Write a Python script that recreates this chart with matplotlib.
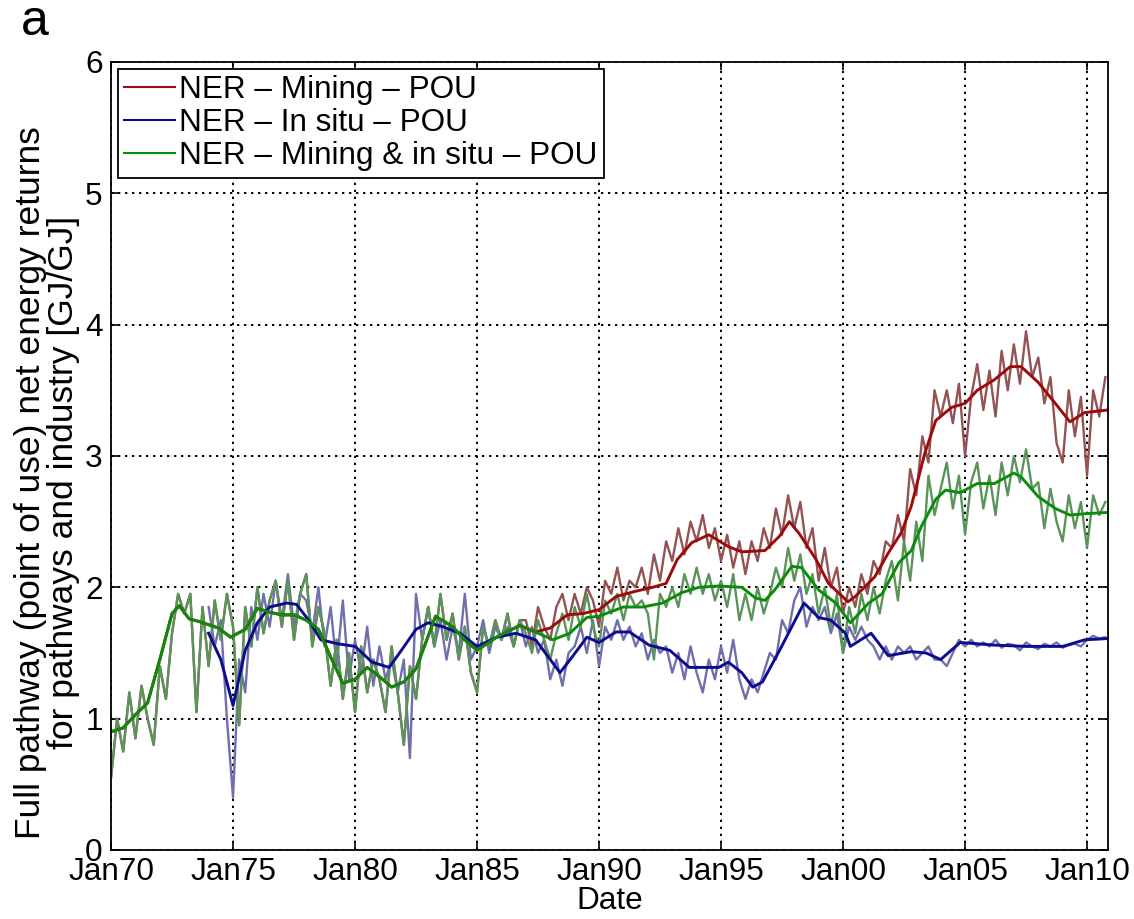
import numpy as np
import matplotlib
matplotlib.use("Agg")
import matplotlib.pyplot as plt

plt.rcParams['font.family'] = ['Liberation Sans', 'DejaVu Sans']

# quarterly net energy return samples [GJ/GJ]
# mining and combined pathways coincide until the late 1980s
early_raw = [
    0.55, 1.00, 0.75, 1.20,   # 1970
    0.85, 1.25, 1.00, 0.80,   # 1971
    1.40, 1.15, 1.65, 1.95,   # 1972
    1.80, 1.95, 1.05, 1.85,   # 1973
    1.40, 1.90, 1.60, 1.95,   # 1974
    1.70, 0.95, 1.85, 1.55,   # 1975
    2.00, 1.65, 1.90, 2.05,   # 1976
    1.70, 2.05, 1.60, 1.95,   # 1977
    2.10, 1.55, 1.85, 1.65,   # 1978
    1.25, 1.60, 1.15, 1.50,   # 1979
    1.05, 1.55, 1.20, 1.45,   # 1980
    1.30, 1.05, 1.55, 1.20,   # 1981
    0.80, 1.40, 1.15, 1.60,   # 1982
    1.85, 1.55, 1.95, 1.60,   # 1983
    1.80, 1.45, 1.70, 1.35,   # 1984
    1.20, 1.70, 1.55, 1.75,   # 1985
    1.60, 1.80, 1.55, 1.75,   # 1986
]

mining_raw_tail = [
    1.75, 1.55, 1.85, 1.70,   # 1987
    1.60, 1.85, 1.95, 1.75,   # 1988
    1.95, 1.80, 2.00, 1.90,   # 1989
    1.70, 2.05, 1.95, 2.15,   # 1990
    1.90, 2.05, 2.00, 2.15,   # 1991
    1.95, 2.25, 2.05, 2.35,   # 1992
    2.20, 2.45, 2.25, 2.50,   # 1993
    2.35, 2.55, 2.30, 2.45,   # 1994
    2.20, 2.40, 2.15, 2.35,   # 1995
    2.10, 2.35, 2.20, 2.45,   # 1996
    2.30, 2.60, 2.40, 2.70,   # 1997
    2.45, 2.65, 2.30, 2.45,   # 1998
    2.05, 2.30, 2.00, 2.15,   # 1999
    1.80, 2.00, 1.85, 2.10,   # 2000
    1.95, 2.20, 2.10, 2.35,   # 2001
    2.30, 2.55, 2.35, 2.90,   # 2002
    2.70, 3.15, 2.95, 3.50,   # 2003
    3.30, 3.50, 3.25, 3.55,   # 2004
    3.00, 3.45, 3.70, 3.35,   # 2005
    3.65, 3.30, 3.80, 3.50,   # 2006
    3.85, 3.55, 3.95, 3.60,   # 2007
    3.75, 3.40, 3.60, 3.10,   # 2008
    2.95, 3.50, 3.15, 3.45,   # 2009
    2.85, 3.50, 3.30, 3.60,   # 2010
]

combined_raw_tail = [
    1.65, 1.50, 1.75, 1.60,   # 1987
    1.45, 1.65, 1.80, 1.60,   # 1988
    1.85, 1.70, 1.95, 1.70,   # 1989
    1.55, 1.90, 1.80, 1.95,   # 1990
    1.75, 1.95, 1.85, 1.90,   # 1991
    1.80, 1.45, 1.95, 1.85,   # 1992
    2.00, 1.85, 2.10, 1.95,   # 1993
    2.15, 1.95, 2.10, 1.90,   # 1994
    2.05, 1.85, 2.10, 1.75,   # 1995
    1.95, 1.75, 2.00, 1.80,   # 1996
    1.95, 2.15, 2.00, 2.30,   # 1997
    2.05, 2.25, 1.95, 2.10,   # 1998
    1.80, 2.00, 1.70, 1.95,   # 1999
    1.50, 1.85, 1.65, 1.95,   # 2000
    1.75, 2.00, 1.80, 2.05,   # 2001
    2.20, 1.90, 2.35, 2.05,   # 2002
    2.50, 2.20, 2.85, 2.55,   # 2003
    2.75, 2.95, 2.60, 2.85,   # 2004
    2.40, 2.80, 2.95, 2.60,   # 2005
    2.85, 2.55, 2.95, 2.70,   # 2006
    3.00, 2.80, 3.05, 2.75,   # 2007
    2.80, 2.45, 2.75, 2.50,   # 2008
    2.35, 2.70, 2.45, 2.65,   # 2009
    2.30, 2.70, 2.55, 2.65,   # 2010
]

# in situ series starts in 1974
insitu_raw = [
    1.85, 1.55, 1.75, 1.00,   # 1974
    0.40, 1.45, 1.20, 1.85,   # 1975
    1.60, 1.95, 1.70, 2.05,   # 1976
    1.75, 2.10, 1.70, 1.95,   # 1977
    1.90, 1.65, 2.00, 1.55,   # 1978
    1.85, 1.40, 1.90, 1.30,   # 1979
    1.60, 1.35, 1.70, 1.25,   # 1980
    1.55, 1.30, 1.45, 1.20,   # 1981
    1.45, 0.70, 1.95, 1.60,   # 1982
    1.85, 1.55, 1.75, 1.45,   # 1983
    1.70, 1.50, 1.95, 1.45,   # 1984
    1.55, 1.75, 1.50, 1.70,   # 1985
    1.60, 1.70, 1.55, 1.75,   # 1986
    1.55, 1.70, 1.50, 1.60,   # 1987
    1.30, 1.45, 1.25, 1.50,   # 1988
    1.55, 1.70, 1.50, 1.75,   # 1989
    1.40, 1.70, 1.60, 1.75,   # 1990
    1.60, 1.70, 1.55, 1.65,   # 1991
    1.45, 1.60, 1.50, 1.55,   # 1992
    1.35, 1.50, 1.30, 1.55,   # 1993
    1.35, 1.20, 1.45, 1.30,   # 1994
    1.55, 1.35, 1.60, 1.30,   # 1995
    1.15, 1.30, 1.20, 1.35,   # 1996
    1.50, 1.45, 1.75, 1.65,   # 1997
    1.90, 2.00, 1.70, 1.85,   # 1998
    1.75, 1.85, 1.65, 1.80,   # 1999
    1.50, 1.70, 1.60, 1.70,   # 2000
    1.60, 1.55, 1.45, 1.55,   # 2001
    1.45, 1.55, 1.50, 1.55,   # 2002
    1.45, 1.50, 1.55, 1.45,   # 2003
    1.45, 1.40, 1.50, 1.60,   # 2004
    1.55, 1.60, 1.55, 1.58,   # 2005
    1.55, 1.60, 1.54, 1.57,   # 2006
    1.56, 1.52, 1.58, 1.55,   # 2007
    1.53, 1.57, 1.55, 1.58,   # 2008
    1.54, 1.56, 1.57, 1.55,   # 2009
    1.60, 1.63, 1.61, 1.62,   # 2010
]

# smoothed trends (decimal year, value)
early_smooth_x = [1970.0, 1970.5, 1971.0, 1971.5, 1972.0, 1972.5, 1972.8, 1973.2,
                  1973.6, 1974.4, 1974.9, 1975.5, 1976.0, 1976.5, 1977.0, 1977.5,
                  1978.0, 1978.5, 1979.0, 1979.5, 1980.0, 1980.5, 1981.0, 1981.5,
                  1982.0, 1982.5, 1983.3, 1984.0, 1984.5, 1985.0, 1985.8, 1986.75,
                  1987.4]
early_smooth_y = [0.90, 0.93, 1.03, 1.12, 1.45, 1.80, 1.86, 1.76,
                  1.74, 1.69, 1.62, 1.68, 1.84, 1.81, 1.79, 1.79,
                  1.75, 1.68, 1.47, 1.27, 1.30, 1.39, 1.32, 1.24,
                  1.28, 1.38, 1.78, 1.70, 1.60, 1.52, 1.62, 1.71,
                  1.66]

mining_smooth_x = [1988.0, 1988.7, 1989.35, 1990.0, 1990.7, 1991.5, 1992.2, 1992.75,
                   1993.2, 1993.8, 1994.5, 1995.3, 1995.85, 1996.8, 1997.4, 1997.8,
                   1998.2, 1998.9, 1999.4, 2000.2, 2000.5, 2001.3, 2001.85, 2002.4,
                   2002.8, 2003.35, 2003.8, 2004.45, 2005.0, 2005.5, 2006.2, 2006.85,
                   2007.3, 2008.0, 2008.7, 2009.3, 2009.9, 2010.85]
mining_smooth_y = [1.69, 1.79, 1.80, 1.83, 1.93, 1.97, 2.00, 2.03,
                   2.21, 2.34, 2.40, 2.31, 2.27, 2.28, 2.39, 2.50,
                   2.41, 2.21, 2.03, 1.89, 1.93, 2.08, 2.26, 2.42,
                   2.62, 3.02, 3.27, 3.37, 3.40, 3.50, 3.58, 3.68,
                   3.68, 3.56, 3.40, 3.26, 3.33, 3.35]

combined_smooth_x = [1988.1, 1988.8, 1989.5, 1990.0, 1991.0, 1991.8, 1992.6, 1993.4,
                     1994.1, 1994.9, 1995.85, 1996.4, 1996.8, 1997.2, 1997.9, 1998.3,
                     1999.0, 1999.7, 2000.3, 2001.05, 2001.6, 2002.3, 2002.8, 2003.2,
                     2003.8, 2004.2, 2004.8, 2005.5, 2006.2, 2007.0, 2007.3, 2008.0,
                     2008.7, 2009.3, 2009.9, 2010.85]
combined_smooth_y = [1.60, 1.65, 1.77, 1.78, 1.85, 1.85, 1.88, 1.96,
                     2.00, 2.01, 2.00, 1.92, 1.90, 1.98, 2.16, 2.15,
                     1.98, 1.88, 1.73, 1.88, 1.95, 2.19, 2.28, 2.46,
                     2.67, 2.74, 2.72, 2.79, 2.79, 2.87, 2.84, 2.69,
                     2.60, 2.55, 2.56, 2.57]

insitu_smooth_x = [1974.0, 1974.5, 1975.0, 1975.5, 1976.0, 1976.5, 1977.2, 1977.6,
                   1978.1, 1978.6, 1979.3, 1980.0, 1980.7, 1981.4, 1981.9, 1982.5,
                   1983.0, 1983.6, 1984.3, 1985.0, 1985.8, 1986.6, 1987.4, 1988.0,
                   1988.4, 1988.9, 1989.5, 1990.0, 1990.7, 1991.25, 1992.05, 1992.9,
                   1993.7, 1994.9, 1995.3, 1995.85, 1996.3, 1996.7, 1997.4, 1997.9,
                   1998.4, 1999.0, 1999.5, 2000.1, 2000.3, 2001.15, 2001.85, 2002.8,
                   2003.4, 2004.0, 2004.8, 2006.2, 2007.5, 2009.0, 2009.9, 2010.85]
insitu_smooth_y = [1.65, 1.45, 1.10, 1.52, 1.73, 1.85, 1.88, 1.87,
                   1.75, 1.60, 1.57, 1.55, 1.43, 1.39, 1.52, 1.68,
                   1.73, 1.70, 1.65, 1.55, 1.62, 1.65, 1.60, 1.45,
                   1.35, 1.47, 1.62, 1.58, 1.66, 1.66, 1.56, 1.52,
                   1.39, 1.39, 1.43, 1.35, 1.24, 1.28, 1.52, 1.70,
                   1.88, 1.77, 1.75, 1.65, 1.55, 1.65, 1.48, 1.51,
                   1.50, 1.45, 1.58, 1.56, 1.55, 1.55, 1.60, 1.61]

tick_years = [1970, 1975, 1980, 1985, 1990, 1995, 2000, 2005, 2010]
tick_labels = ['Jan70', 'Jan75', 'Jan80', 'Jan85', 'Jan90', 'Jan95',
               'Jan00', 'Jan05', 'Jan10']

labels = ['NER \u2013 Mining \u2013 POU',
          'NER \u2013 In situ \u2013 POU',
          'NER \u2013 Mining & in situ \u2013 POU']

# assemble series
mining_raw = early_raw + mining_raw_tail
combined_raw = early_raw + combined_raw_tail
t_full = 1970 + 0.25 * np.arange(len(mining_raw))
t_insitu = 1974 + 0.25 * np.arange(len(insitu_raw))

mining_sx = early_smooth_x + mining_smooth_x
mining_sy = early_smooth_y + mining_smooth_y
combined_sx = early_smooth_x + combined_smooth_x
combined_sy = early_smooth_y + combined_smooth_y

thin = {'mining': '#955252', 'insitu': '#6f6fae', 'combined': '#5a945a'}
thick = {'mining': '#9c0c0c', 'insitu': '#0c0c8e', 'combined': '#0c8c0c'}

fig = plt.figure(figsize=(11.34, 9.19), dpi=100)
ax = fig.add_axes([0.0979, 0.0751, 0.8792, 0.8575])

ax.plot(t_full, mining_raw, color=thin['mining'], lw=1.7)
ax.plot(t_insitu, insitu_raw, color=thin['insitu'], lw=1.7)
ax.plot(t_full, combined_raw, color=thin['combined'], lw=1.7)

ax.plot(mining_sx, mining_sy, color=thick['mining'], lw=2.1)
ax.plot(insitu_smooth_x, insitu_smooth_y, color=thick['insitu'], lw=2.1)
ax.plot(combined_sx, combined_sy, color=thick['combined'], lw=2.1)

ax.set_xlim(1970, 2010.86)
ax.set_ylim(0, 6)
ax.set_xticks(tick_years)
ax.set_xticklabels(tick_labels)
ax.set_yticks(range(7))

ax.tick_params(direction='in', length=6, width=1.2, top=True, right=True,
               labelsize=22.7)
ax.tick_params(axis='x', pad=5)
ax.tick_params(axis='y', pad=6)
ax.grid(True, color='k', linestyle=(0, (1.2, 2.4)), linewidth=1.4)
for s in ax.spines.values():
    s.set_linewidth(1.3)

ax.set_xlabel('Date', fontsize=22.7, labelpad=-1)
ax.set_ylabel('Full pathway (point of use) net energy returns\n'
              'for pathways and industry [GJ/GJ]', fontsize=25.5,
              linespacing=1.0)
ax.yaxis.set_label_coords(-0.031, 0.466)

handles = [plt.Line2D([], [], color=thick[k], lw=1.5)
           for k in ('mining', 'insitu', 'combined')]
leg = ax.legend(handles, labels, loc='upper left', fontsize=22.7,
                frameon=True, fancybox=False, shadow=False,
                borderaxespad=0.22, handlelength=1.6, handletextpad=0.15,
                labelspacing=0.1, borderpad=0.2)
leg.get_frame().set_edgecolor('k')
leg.get_frame().set_linewidth(1.3)
leg.get_frame().set_alpha(1.0)

fig.text(0.018, 0.962, 'a', fontsize=36)

fig.savefig('out.png', dpi=100)
